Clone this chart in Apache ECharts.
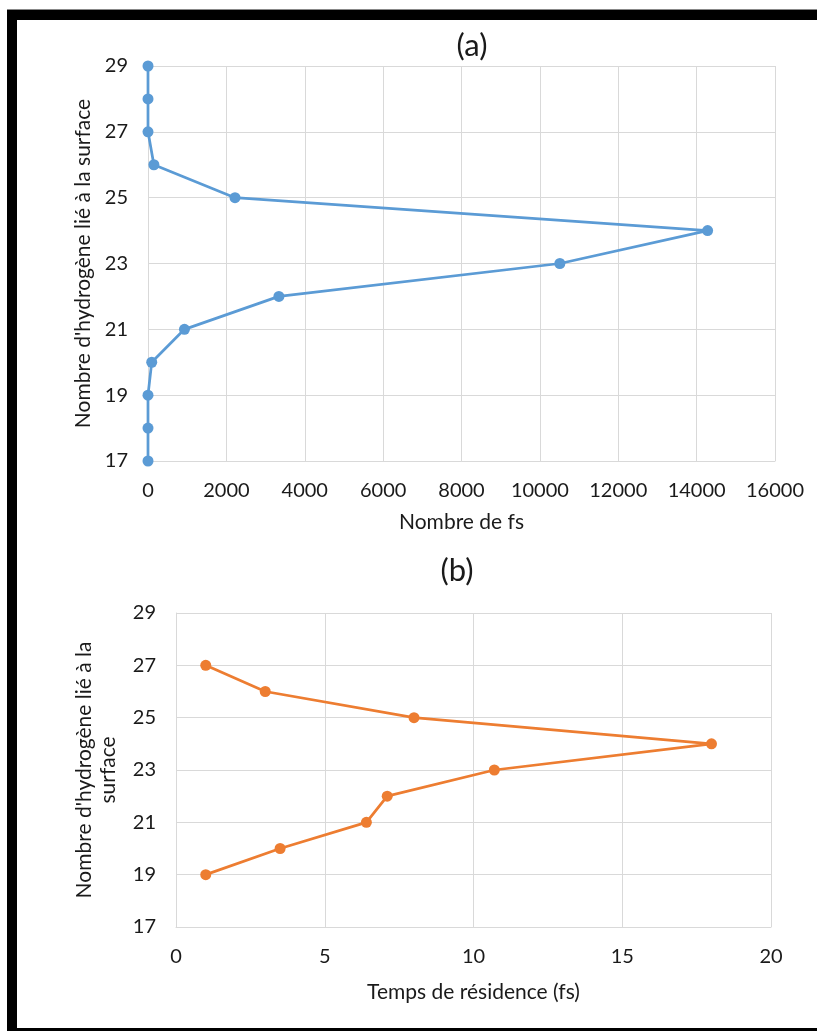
<!DOCTYPE html>
<html>
<head>
<meta charset="utf-8">
<script src="https://cdn.jsdelivr.net/npm/echarts@6/dist/echarts.min.js"></script>
<style>
  html, body { margin: 0; padding: 0; background: #fff; }
  #chart { width: 817px; height: 1031px; }
</style>
</head>
<body>
<div id="chart"></div>
<script>
// (a) nombre de fs par nombre d'hydrogène
const hydrogenA = [29, 28, 27, 26, 25, 24, 23, 22, 21, 20, 19, 18, 17];
const fsCount = [0, 0, 0, 150, 2220, 14280, 10510, 3340, 930, 95, 0, 0, 0];

// (b) temps de résidence
const hydrogenB = [27, 26, 25, 24, 23, 22, 21, 20, 19];
const residence = [1.0, 3.0, 8.0, 18.0, 10.7, 7.1, 6.4, 3.5, 1.0];

const font = 'Lato, "Open Sans", sans-serif';
const textColor = '#1a1a1a';
const gridColor = '#d9d9d9';

const chart = echarts.init(document.getElementById('chart'));

function valueAxis(extra) {
    return Object.assign({
        type: 'value',
        axisLine: { show: true, lineStyle: { color: gridColor, width: 1 } },
        axisTick: { show: false },
        splitLine: { show: true, lineStyle: { color: gridColor, width: 1 } },
        axisLabel: { color: textColor, fontFamily: font, fontSize: 20, margin: 20,
                     formatter: v => String(v) },
        nameTextStyle: { color: textColor, fontFamily: font, fontSize: 21 },
        nameLocation: 'middle'
    }, extra);
}

chart.setOption({
    animation: false,
    backgroundColor: '#fff',
    title: [
        { text: '(a)', left: 467, top: 25, textAlign: 'center',
          textStyle: { fontFamily: font, fontSize: 31, fontWeight: 'normal', color: textColor } },
        { text: '(b)', left: 452, top: 550, textAlign: 'center',
          textStyle: { fontFamily: font, fontSize: 31, fontWeight: 'normal', color: textColor } }
    ],
    grid: [
        { left: 148, right: 42, top: 66, height: 395 },
        { left: 176, right: 46, top: 613, height: 314 }
    ],
    xAxis: [
        valueAxis({ gridIndex: 0, min: 0, max: 16000, interval: 2000,
            name: 'Nombre de fs', nameGap: 51 }),
        valueAxis({ gridIndex: 1, min: 0, max: 20, interval: 5,
            name: 'Temps de résidence (fs)', nameGap: 55 })
    ],
    yAxis: [
        valueAxis({ gridIndex: 0, min: 17, max: 29, interval: 2,
            name: "Nombre d'hydrogène lié à la surface", nameGap: 50 }),
        valueAxis({ gridIndex: 1, min: 17, max: 29, interval: 2,
            name: "Nombre d'hydrogène lié à la\nsurface", nameGap: 56,
            nameTextStyle: { color: textColor, fontFamily: font, fontSize: 21, lineHeight: 24 } })
    ],
    series: [
        {
            type: 'line', xAxisIndex: 0, yAxisIndex: 0,
            data: hydrogenA.map((h, i) => [fsCount[i], h]),
            symbol: 'circle', symbolSize: 11,
            lineStyle: { color: '#5b9bd5', width: 2.75 },
            itemStyle: { color: '#5b9bd5' }
        },
        {
            type: 'line', xAxisIndex: 1, yAxisIndex: 1,
            data: hydrogenB.map((h, i) => [residence[i], h]),
            symbol: 'circle', symbolSize: 11,
            lineStyle: { color: '#ed7d31', width: 2.75 },
            itemStyle: { color: '#ed7d31' }
        }
    ],
    graphic: [
        { type: 'rect', shape: { x: 7, y: 9, width: 810, height: 1 }, style: { fill: '#888' } },
        { type: 'rect', shape: { x: 7, y: 10, width: 810, height: 10 }, style: { fill: '#000' } },
        { type: 'rect', shape: { x: 7, y: 10, width: 10, height: 1021 }, style: { fill: '#000' } },
        { type: 'rect', shape: { x: 7, y: 1028, width: 810, height: 3 }, style: { fill: '#000' } }
    ]
});
</script>
</body>
</html>
